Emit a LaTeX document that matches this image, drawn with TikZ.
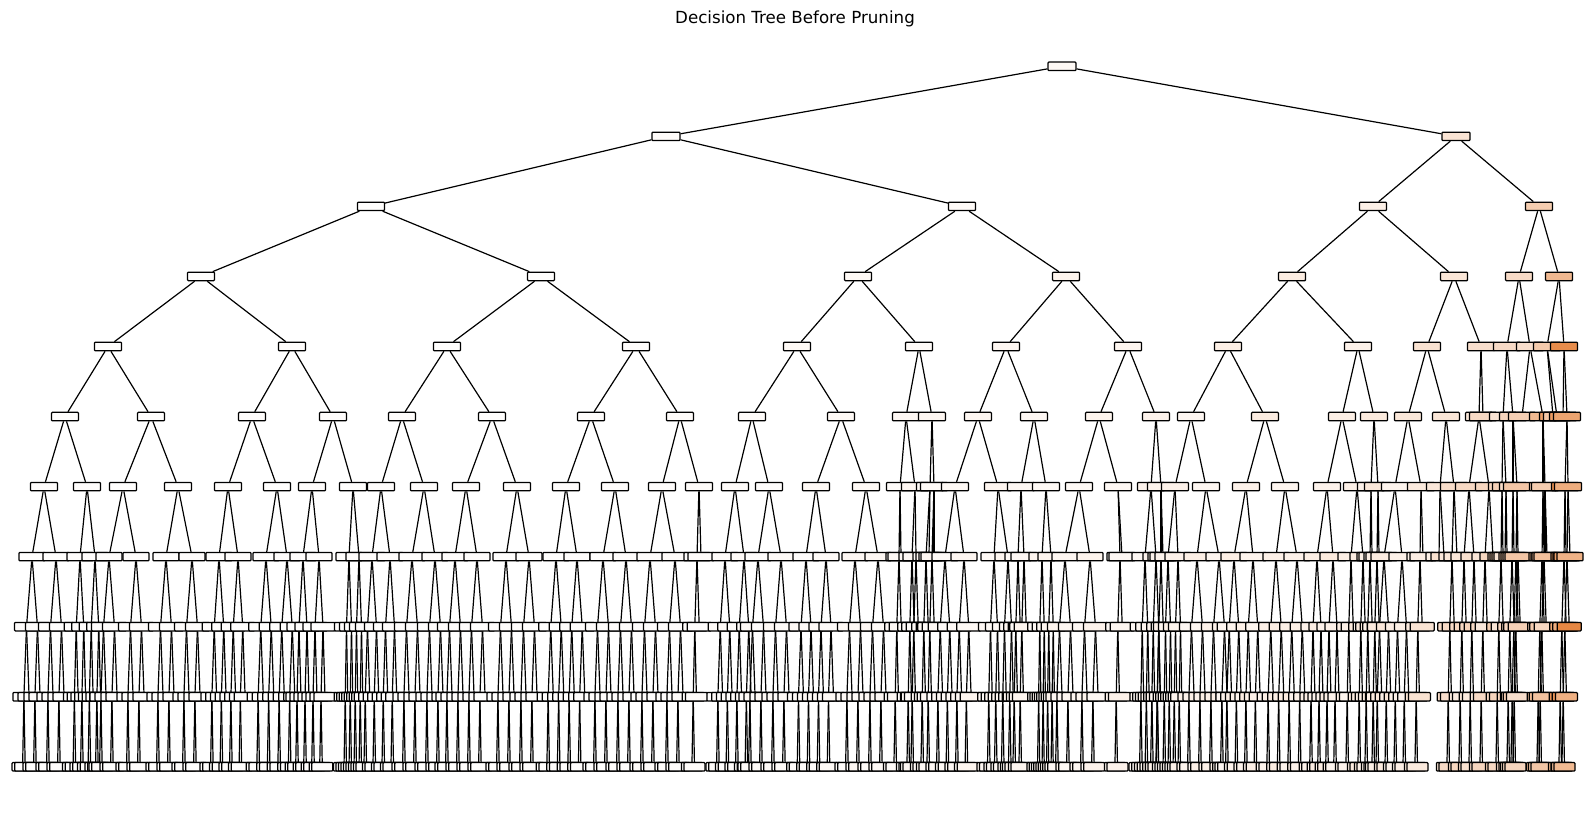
\documentclass[tikz,border=0pt]{standalone}
\usepackage{fontspec}
\setmainfont{DejaVu Sans}
\definecolor{tor}{HTML}{E58139}
\tikzset{
  box/.style={draw=black, line width=1.25pt, rounded corners=0.8pt, minimum height=8.4pt, inner sep=0pt, minimum width=#1},
  edge/.style={line width=1.2pt, black},
  ttl/.style={font=\fontsize{16.67}{20}\selectfont, inner sep=0pt},
}
% node maker: name, x, level, parent, width
\newcommand\Mk[5]{%
  \pgfmathsetmacro\Gy{66.3+70.05*#3}%
  \pgfmathsetmacro\Gcol{(2+6*max(0,min(1,(#2-600)/500))+7*max(0,min(1,(#2-1100)/300))+15*max(0,min(1,(#2-1400)/100))+15*max(0,min(1,(#2-1500)/45))+45*max(0,min(1,(#2-1545)/25)))*(1+0.35*rand)}%
  \pgfmathtruncatemacro\Gcol{max(1,min(95,\Gcol))}%
  \node[box=#5, fill=tor!\Gcol!white] (#1) at (#2,\Gy) {};%
  \draw[edge] (#4) -- (#1);}
% full subtree below an L6 node: parent, L7 name, x, spread
\newcommand\Gen[4]{%
  \begingroup
  \Mk{#2}{#3}{7}{#1}{26pt}%
  \pgfmathsetmacro\GdA{max(0.8,min(5.5,#4/4))}%
  \pgfmathsetmacro\GdB{max(0.7,min(2.6,\GdA/2))}%
  \pgfmathsetmacro\GdC{min(1.3,\GdB)}%
  \pgfmathsetmacro\Gxa{#3-\GdA}\pgfmathsetmacro\Gxb{#3+\GdA}%
  \Mk{#2a}{\Gxa}{8}{#2}{24pt}\Mk{#2b}{\Gxb}{8}{#2}{24pt}%
  \pgfmathsetmacro\Gxaa{\Gxa-\GdB}\pgfmathsetmacro\Gxab{\Gxa+\GdB}%
  \pgfmathsetmacro\Gxba{\Gxb-\GdB}\pgfmathsetmacro\Gxbb{\Gxb+\GdB}%
  \Mk{#2aa}{\Gxaa}{9}{#2a}{22pt}\Mk{#2ab}{\Gxab}{9}{#2a}{22pt}%
  \Mk{#2ba}{\Gxba}{9}{#2b}{22pt}\Mk{#2bb}{\Gxbb}{9}{#2b}{22pt}%
  \pgfmathsetmacro\Gxq{\Gxaa-\GdC}\pgfmathsetmacro\Gxw{\Gxaa+\GdC}%
  \Mk{#2aaa}{\Gxq}{10}{#2aa}{21pt}\Mk{#2aab}{\Gxw}{10}{#2aa}{21pt}%
  \pgfmathsetmacro\Gxq{\Gxba-\GdC}\pgfmathsetmacro\Gxw{\Gxba+\GdC}%
  \Mk{#2baa}{\Gxq}{10}{#2ba}{21pt}\Mk{#2bab}{\Gxw}{10}{#2ba}{21pt}%
  \endgroup}
% thin subtree: a single chain of splits below the L7 node
\newcommand\GenT[3]{%
  \begingroup
  \Mk{#2}{#3}{7}{#1}{26pt}%
  \pgfmathsetmacro\Gxa{#3-2.2}\pgfmathsetmacro\Gxb{#3+2.2}%
  \Mk{#2a}{\Gxa}{8}{#2}{24pt}\Mk{#2b}{\Gxb}{8}{#2}{24pt}%
  \pgfmathsetmacro\Gxaa{\Gxa-1.6}\pgfmathsetmacro\Gxab{\Gxa+1.6}%
  \Mk{#2aa}{\Gxaa}{9}{#2a}{22pt}\Mk{#2ab}{\Gxab}{9}{#2a}{22pt}%
  \pgfmathsetmacro\Gxq{\Gxaa-1.3}\pgfmathsetmacro\Gxw{\Gxaa+1.3}%
  \Mk{#2aaa}{\Gxq}{10}{#2aa}{21pt}\Mk{#2aab}{\Gxw}{10}{#2aa}{21pt}%
  \endgroup}
\begin{document}
\begin{tikzpicture}[x=1pt,y=-1pt]
\useasboundingbox (0,0) rectangle (1590,812);
\pgfmathsetseed{5}
\node[ttl] (title) at (795,18.5) {Decision Tree Before Pruning};
\node[box=28pt, fill=tor!5!white] (r) at (1062,66.3) {};
\foreach \na/\xa/\pa in {r0/666/r, r1/1456/r}{\Mk{\na}{\xa}{1}{\pa}{28pt}}
\foreach \na/\xa/\pa in {r00/371/r0, r01/962/r0, r10/1373/r1, r11/1539/r1}{\Mk{\na}{\xa}{2}{\pa}{27pt}}
\foreach \na/\xa/\pa in {r000/201/r00, r001/541/r00, r010/858/r01, r011/1066/r01, r100/1292/r10, r101/1454/r10, r110/1519/r11, r111/1559/r11}{\Mk{\na}{\xa}{3}{\pa}{27pt}}
\foreach \na/\xa/\pa in {r0000/108/r000, r0001/292/r000, r0010/447/r001, r0011/636/r001, r0100/797/r010, r0101/919/r010, r0110/1006/r011, r0111/1128/r011, r1000/1228/r100, r1001/1358/r100, r1010/1427/r101, r1011/1481/r101, r1100/1507/r110, r1101/1530/r110, r1110/1547/r111, r1111/1564/r111}{\Mk{\na}{\xa}{4}{\pa}{27pt}}
\foreach \na/\xa/\pa in {r00000/65/r0000, r00001/151/r0000, r00010/252/r0001, r00011/333/r0001, r00100/402/r0010, r00101/492/r0010, r00110/591/r0011, r00111/680/r0011, r01000/752/r0100, r01001/841/r0100, r01010/906/r0101, r01011/932/r0101, r01100/978/r0110, r01101/1034/r0110, r01110/1099/r0111, r01111/1156/r0111, r10000/1191/r1000, r10001/1265/r1000, r10010/1342/r1001, r10011/1374/r1001, r10100/1408/r1010, r10101/1446/r1010, r10110/1479/r1011, r10111/1483/r1011, r11000/1503/r1100, r11001/1513/r1100, r11010/1522/r1101, r11011/1543/r1101, r11100/1553/r1110, r11101/1557/r1110, r11110/1563/r1111, r11111/1567/r1111}{\Mk{\na}{\xa}{5}{\pa}{27pt}}
\foreach \pa/\la/\ra in {r00000/44/87, r00001/123/178, r00010/228/277, r00011/312/353, r00100/381/424, r00101/466/517, r00110/566/615, r00111/662/699, r01000/735/769, r01001/816/866, r01010/900/915, r01011/930/934, r01100/955/998, r01101/1021/1046, r01110/1079/1118, r01111/1151/1161, r10000/1175/1206, r10001/1246/1285, r10010/1327/1357, r10011/1371/1378, r10100/1395/1421, r10101/1440/1454, r10110/1469/1489, r11000/1502/1506, r11001/1513/1517, r11011/1543/1545, r11111/1565/1568}{\Mk{\pa0}{\la}{6}{\pa}{27pt}\Mk{\pa1}{\ra}{6}{\pa}{27pt}}
% mode 0: full, 1: thin, 2: thin on the left child only, 3: both leaves
\foreach \pa/\la/\ra/\md in {r000000/32/56/0, r000001/80/95/0, r000010/109/136/0, r000011/166/192/0, r000100/219/238/0, r000101/266/287/0, r000110/303/319/0, r000111/349/359/0, r001000/372/390/0, r001001/412/435/0, r001010/455/477/0, r001011/506/529/0, r001100/556/577/0, r001101/603/626/0, r001110/650/675/0, r001111/697/701/2, r010000/725/744/0, r010001/758/781/0, r010010/806/826/0, r010011/855/878/0, r010100/899/901/2, r010101/912/916/1, r010110/926/929/2, r010111/932/934/2, r011000/945/964/0, r011001/994/1008/0, r011010/1018/1024/1, r011011/1042/1051/0, r011100/1065/1090/0, r011101/1120/1122/2, r011110/1145/1156/0, r011111/1161/1163/2, r100000/1168/1178/0, r100001/1197/1219/0, r100010/1234/1253/0, r100011/1276/1297/0, r100100/1317/1333/0, r100101/1351/1363/1, r100110/1370/1372/2, r100111/1377/1379/2, r101000/1384/1402/0, r101001/1420/1423/2, r101010/1439/1444/3, r101011/1452/1457/2, r101100/1464/1474/1, r101101/1485/1493/2, r110000/1501/1503/2, r110001/1505/1507/3, r110010/1512/1514/2, r110011/1516/1518/1, r110110/1542/1544/1, r110111/1545/1547/3, r111110/1564/1566/2, r111111/1567/1570/2}{%
  \pgfmathsetmacro\Gsp{\ra-\la}%
  \ifcase\md
    \Gen{\pa}{\pa0}{\la}{\Gsp}\Gen{\pa}{\pa1}{\ra}{\Gsp}%
  \or
    \GenT{\pa}{\pa0}{\la}\GenT{\pa}{\pa1}{\ra}%
  \or
    \GenT{\pa}{\pa0}{\la}\Mk{\pa1}{\ra}{7}{\pa}{26pt}%
  \or
    \Mk{\pa0}{\la}{7}{\pa}{26pt}\Mk{\pa1}{\ra}{7}{\pa}{26pt}%
  \fi}
\end{tikzpicture}
\end{document}
